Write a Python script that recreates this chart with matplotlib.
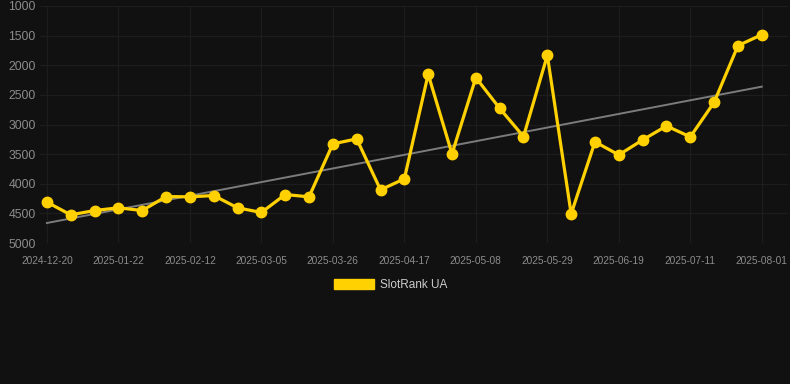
import numpy as np
import matplotlib
matplotlib.use('Agg')
import matplotlib.pyplot as plt
from matplotlib.patches import Patch

plt.rcParams['font.family'] = ['Liberation Sans', 'DejaVu Sans']

dates = ['2024-12-20', '2025-01-08', '2025-01-15', '2025-01-22', '2025-01-29', '2025-02-05',
         '2025-02-12', '2025-02-19', '2025-02-26', '2025-03-05', '2025-03-12', '2025-03-19',
         '2025-03-26', '2025-04-02', '2025-04-09', '2025-04-17', '2025-04-24', '2025-05-01',
         '2025-05-08', '2025-05-15', '2025-05-22', '2025-05-29', '2025-06-05', '2025-06-12',
         '2025-06-19', '2025-06-26', '2025-07-03', '2025-07-11', '2025-07-18', '2025-07-25',
         '2025-08-01']
rank = [4310, 4525, 4452, 4406, 4452, 4216, 4221, 4199, 4406, 4485, 4182, 4221,
        3327, 3243, 4103, 3917, 2152, 3496, 2209, 2727, 3204, 1832, 4508, 3293,
        3513, 3260, 3024, 3209, 2625, 1669, 1484]
series_name = 'SlotRank UA'
y_ticks = [1000, 1500, 2000, 2500, 3000, 3500, 4000, 4500, 5000]

BG = '#111111'
YEL = '#ffd100'

x = np.arange(len(rank))
k, b = np.polyfit(x, rank, 1)

fig = plt.figure(figsize=(7.9, 3.84), dpi=100, facecolor=BG)
ax = fig.add_axes([40/790, 1-243/384, 748/790, 237/384])
ax.set_facecolor(BG)

ax.plot(x, k*x + b, color='#7c7c7c', lw=1.4, zorder=2)
ax.plot(x, rank, color=YEL, lw=2.3, marker='o', ms=7.5, zorder=3)

ax.set_ylim(5000, 1000)
ax.set_yticks(y_ticks)
ax.set_xlim(-0.29, 31.1)
ax.set_xticks(x[::3])
ax.set_xticklabels(dates[::3])
ax.tick_params(axis='y', colors='#8c8c8c', labelsize=8.7, length=0, pad=3)
ax.tick_params(axis='x', colors='#8c8c8c', labelsize=7.3, length=0, pad=9)
ax.grid(True, color='#1d1d1d', lw=0.9)
ax.set_axisbelow(True)
for s in ax.spines.values():
    s.set_visible(False)

fig.legend(handles=[Patch(facecolor=YEL, edgecolor=YEL)], labels=[series_name],
           loc='center', bbox_to_anchor=(391/790, 1-285/384), frameon=False,
           fontsize=8.5, labelcolor='#cccccc', handlelength=3.4, handleheight=1.0,
           handletextpad=0.5)

fig.savefig('out.png', dpi=100, facecolor=BG)
